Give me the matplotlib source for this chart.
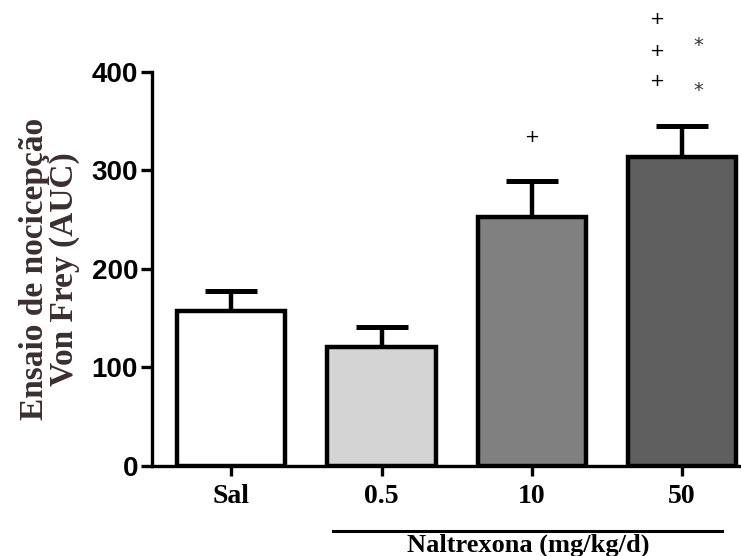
import matplotlib
matplotlib.use("Agg")
import matplotlib.pyplot as plt

# data
groups = ["Sal", "0.5", "10", "50"]
means = [157, 121, 253, 314]
sem = [21, 20, 36, 31]
colors = ["#ffffff", "#d4d4d4", "#808080", "#5f5f5f"]

serif = ["Liberation Serif", "DejaVu Serif"]
sans = ["Liberation Sans", "DejaVu Sans"]

fig = plt.figure(figsize=(7.41, 5.56), dpi=100)
ax = fig.add_axes([0.205, 0.162, 0.80, 0.7086])

x = range(len(groups))
ax.bar(x, means, width=0.72, color=colors, edgecolor="black", linewidth=3.2, zorder=2)
ax.errorbar(x, means, yerr=[[0] * len(sem), sem], fmt="none", ecolor="black",
            elinewidth=3.2, capsize=19, capthick=3.6, zorder=1)

ax.set_xlim(-0.53, 3.42)
ax.set_ylim(0, 400)
ax.set_yticks([0, 100, 200, 300, 400])
ax.set_yticklabels(["0", "100", "200", "300", "400"], family=sans,
                   fontweight="bold", fontsize=20)
ax.set_xticks(list(x))
ax.set_xticklabels(groups, family=serif, fontweight="bold", fontsize=20)

for s in ["top", "right"]:
    ax.spines[s].set_visible(False)
for s in ["left", "bottom"]:
    ax.spines[s].set_linewidth(2.4)
ax.tick_params(axis="y", length=8, width=2.4, pad=2)
ax.tick_params(axis="x", length=7, width=2.4, pad=6)

ax.set_ylabel("Ensaio de nocicepção\nVon Frey (AUC)", family=serif,
              fontweight="bold", fontsize=24, color="#3a2e2e", labelpad=8,
              linespacing=0.95)

# significance marks
ax.text(2, 334, "+", ha="center", va="center", fontsize=13, clip_on=False)
for yy in [454, 421, 391]:
    ax.text(2.83, yy, "+", ha="center", va="center", fontsize=13, clip_on=False)
for yy in [427, 381]:
    ax.text(3.11, yy, "*", ha="center", va="center", fontsize=14, color="#333",
            clip_on=False)

# group line for naltrexone
fig.lines.append(plt.Line2D([333 / 741, 722 / 741], [1 - 531 / 556] * 2,
                            transform=fig.transFigure, color="black", lw=2.2))
fig.text(528 / 741, 1 - 545 / 556, "Naltrexona (mg/kg/d)", ha="center",
         va="center", family=serif, fontweight="bold", fontsize=19)

fig.savefig("out.png", dpi=100)
